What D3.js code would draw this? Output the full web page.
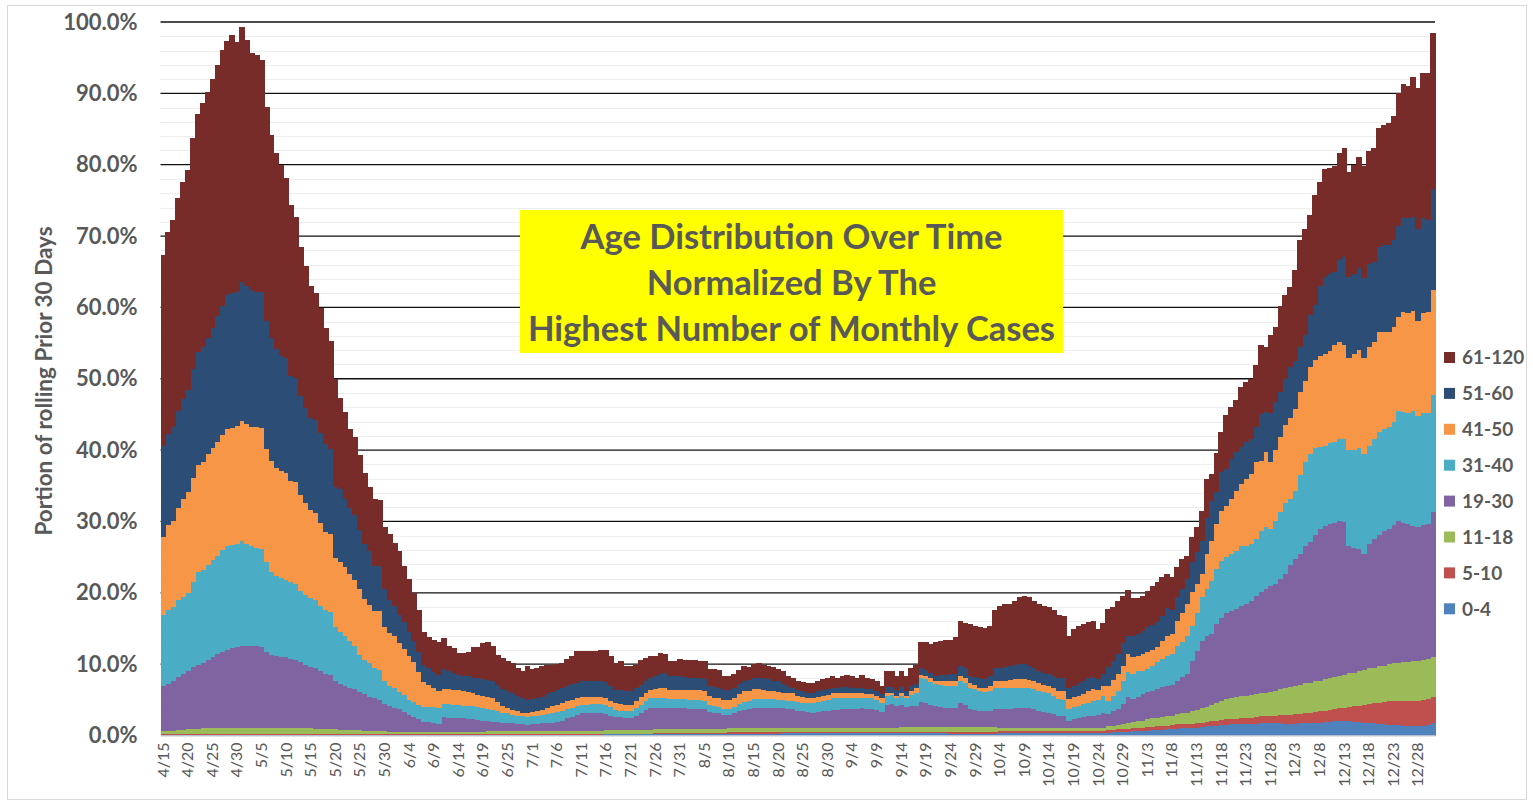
<!DOCTYPE html>
<html>
<head>
<meta charset="utf-8">
<script src="https://cdn.jsdelivr.net/npm/d3@7"></script>
<style>
  body { margin: 0; background: #fff; }
  svg text { font-family: Lato, "Open Sans", sans-serif; }
</style>
</head>
<body>
<div id="container"></div>
<script>
// ---- data: share of the highest monthly case count, in %, one value per day ----
const seriesNames = ["0-4", "5-10", "11-18", "19-30", "31-40", "41-50", "51-60", "61-120"];
const seriesColors = ["#4F81BD", "#C0504D", "#9BBB59", "#8064A2", "#4BACC6", "#F79646", "#2C4D75", "#772C2A"];

// one label every 5th category (two June dates are missing in the source)
const tickLabels = [
  "4/15", "4/20", "4/25", "4/30", "5/5", "5/10", "5/15", "5/20", "5/25", "5/30",
  "6/4", "6/9", "6/14", "6/19", "6/25", "7/1", "7/6", "7/11", "7/16", "7/21",
  "7/26", "7/31", "8/5", "8/10", "8/15", "8/20", "8/25", "8/30", "9/4", "9/9",
  "9/14", "9/19", "9/24", "9/29", "10/4", "10/9", "10/14", "10/19", "10/24", "10/29",
  "11/3", "11/8", "11/13", "11/18", "11/23", "11/28", "12/3", "12/8", "12/13", "12/18",
  "12/23", "12/28"
];
const tickEvery = 5;

const age0to4 = [
  0.1, 0.1, 0.1, 0.1, 0.1, 0.1, 0.1, 0.1, 0.1, 0.1,
  0.1, 0.1, 0.1, 0.1, 0.1, 0.1, 0.1, 0.1, 0.1, 0.1,
  0.1, 0.1, 0.1, 0.1, 0.1, 0.1, 0.1, 0.1, 0.1, 0.1,
  0.1, 0.1, 0.1, 0.1, 0.1, 0.1, 0.1, 0.1, 0.1, 0.1,
  0.1, 0.1, 0.1, 0.1, 0.1, 0.1, 0.1, 0.1, 0.1, 0.1,
  0.1, 0.1, 0.1, 0.1, 0.1, 0.1, 0.1, 0.1, 0.1, 0.1,
  0.1, 0.1, 0.1, 0.1, 0.1, 0.1, 0.1, 0.1, 0.1, 0.1,
  0.1, 0.1, 0.1, 0.1, 0.1, 0.1, 0.1, 0.1, 0.1, 0.1,
  0.1, 0.1, 0.1, 0.1, 0.1, 0.1, 0.1, 0.1, 0.1, 0.1,
  0.15, 0.15, 0.15, 0.15, 0.15, 0.15, 0.15, 0.15, 0.15, 0.15,
  0.15, 0.15, 0.15, 0.15, 0.15, 0.15, 0.15, 0.15, 0.15, 0.15,
  0.2, 0.2, 0.2, 0.2, 0.2, 0.2, 0.2, 0.2, 0.2, 0.2,
  0.2, 0.2, 0.2, 0.2, 0.2, 0.2,
  0.3, 0.3, 0.3, 0.3, 0.3, 0.3, 0.3, 0.3, 0.3, 0.3,
  0.3, 0.3, 0.3, 0.3, 0.3, 0.3, 0.3, 0.3, 0.3, 0.3,
  0.3, 0.3, 0.3, 0.3, 0.3, 0.3, 0.3, 0.3, 0.3, 0.3,
  0.3, 0.3, 0.3, 0.3,
  0.2, 0.2, 0.2, 0.2, 0.2, 0.2, 0.2, 0.2, 0.2, 0.2,
  0.4, 0.4, 0.4, 0.4, 0.4, 0.4, 0.4, 0.4, 0.4, 0.4,
  0.4, 0.4, 0.4, 0.4, 0.4, 0.4, 0.4, 0.4, 0.4, 0.4,
  0.4, 0.4,
  0.4, 0.45, 0.5, 0.5, 0.55, 0.6, 0.6, 0.65, 0.7, 0.75,
  0.8, 0.8, 0.85, 0.9, 0.95, 1.0, 1.0, 1.05, 1.1, 1.2,
  1.3, 1.35, 1.4, 1.5, 1.5, 1.55, 1.55, 1.6, 1.6, 1.65,
  1.65, 1.7, 1.7,
  1.7, 1.7, 1.7, 1.6, 1.6, 1.6, 1.7, 1.7, 1.8, 1.8,
  1.8, 1.9, 1.9, 2.0, 2.0, 2.0, 2.0, 1.9, 1.9, 1.8,
  1.7, 1.7, 1.6, 1.6, 1.5, 1.5, 1.5, 1.4, 1.4, 1.4,
  1.4, 1.4, 1.5, 1.8
];

const age5to10 = [
  0.1, 0.1, 0.1, 0.1, 0.1, 0.1, 0.1, 0.1, 0.1, 0.1,
  0.1, 0.15, 0.15, 0.15, 0.15, 0.15, 0.15, 0.15, 0.15, 0.15,
  0.15, 0.15, 0.15, 0.15, 0.15, 0.15, 0.15, 0.15, 0.15, 0.15,
  0.15, 0.15, 0.15, 0.15, 0.15, 0.15,
  0.1, 0.1, 0.1, 0.1, 0.1, 0.1, 0.1, 0.1, 0.1, 0.1,
  0.1, 0.1, 0.1, 0.1, 0.1, 0.1, 0.1, 0.1, 0.1, 0.1,
  0.1, 0.1, 0.1, 0.1, 0.1, 0.1, 0.1, 0.1, 0.1, 0.1,
  0.1, 0.1, 0.1, 0.1, 0.1, 0.1, 0.1, 0.1, 0.1, 0.1,
  0.1, 0.1, 0.1, 0.1, 0.1, 0.1, 0.1, 0.1, 0.1, 0.1,
  0.1, 0.1, 0.1, 0.1, 0.1, 0.1, 0.1, 0.1, 0.1, 0.1,
  0.1, 0.1, 0.1, 0.1,
  0.15, 0.15, 0.15, 0.15, 0.15, 0.15, 0.15, 0.15, 0.15, 0.15,
  0.15, 0.15, 0.15, 0.15, 0.15,
  0.3, 0.3, 0.3, 0.3, 0.3, 0.3, 0.3, 0.3, 0.3, 0.3, 0.3,
  0.25, 0.25, 0.25, 0.25, 0.25, 0.25, 0.25, 0.25, 0.25, 0.25,
  0.25, 0.25, 0.25, 0.25, 0.25, 0.25, 0.25, 0.25, 0.25, 0.25,
  0.25, 0.25, 0.25, 0.25, 0.25, 0.25, 0.25, 0.25, 0.25, 0.25,
  0.25, 0.25, 0.25, 0.25, 0.25, 0.25, 0.25, 0.25, 0.25, 0.25,
  0.25, 0.25, 0.25, 0.25, 0.25, 0.25, 0.25, 0.25, 0.25, 0.25,
  0.25, 0.25, 0.25, 0.25, 0.25, 0.25, 0.25, 0.25, 0.25, 0.25,
  0.25, 0.25, 0.25, 0.25, 0.25, 0.25,
  0.35, 0.35, 0.35, 0.4, 0.4, 0.4, 0.45, 0.45, 0.5, 0.5,
  0.5, 0.55, 0.55, 0.6, 0.6, 0.6, 0.6, 0.6, 0.6, 0.6,
  0.6, 0.65, 0.7, 0.7, 0.75, 0.75, 0.8, 0.8, 0.85, 0.85,
  0.95, 1.0, 1.05,
  1.1, 1.1, 1.2, 1.3, 1.3, 1.4, 1.3, 1.4, 1.4, 1.5,
  1.6, 1.6, 1.7, 1.7, 1.8, 1.9, 2.0, 2.2, 2.3, 2.5,
  2.7, 2.8, 3.0, 3.1, 3.3, 3.4, 3.4, 3.5, 3.5, 3.5,
  3.5, 3.6, 3.6, 3.6
];

const age11to18 = [
  0.4, 0.45, 0.5, 0.55, 0.6, 0.65, 0.7, 0.75, 0.8, 0.85,
  0.85, 0.85, 0.85, 0.85, 0.85, 0.85, 0.85, 0.85, 0.85, 0.85,
  0.85, 0.8, 0.8, 0.8, 0.8, 0.8, 0.8, 0.8, 0.8, 0.8,
  0.8, 0.7, 0.7, 0.7, 0.7, 0.7, 0.55, 0.55, 0.55, 0.55,
  0.55, 0.4, 0.4, 0.4, 0.4, 0.4, 0.3, 0.3, 0.3, 0.3,
  0.3, 0.25, 0.25, 0.25, 0.25, 0.25, 0.25,
  0.35, 0.35, 0.35, 0.35, 0.35, 0.35, 0.35, 0.35, 0.35,
  0.4, 0.4, 0.4, 0.4, 0.4, 0.4, 0.4, 0.4, 0.4, 0.4,
  0.4, 0.4, 0.4, 0.4, 0.4, 0.4, 0.4, 0.4, 0.4,
  0.5, 0.5, 0.5, 0.5, 0.5, 0.5, 0.5, 0.5, 0.5, 0.5,
  0.5, 0.5, 0.5, 0.5, 0.5,
  0.6, 0.6, 0.6, 0.6, 0.6, 0.6, 0.6, 0.6, 0.6, 0.6,
  0.6, 0.6, 0.6, 0.6, 0.6, 0.6, 0.6, 0.6, 0.6, 0.6,
  0.6, 0.6, 0.6, 0.6, 0.6, 0.6,
  0.55, 0.55, 0.55, 0.55, 0.55, 0.55, 0.55, 0.55, 0.55, 0.55,
  0.55, 0.55, 0.55, 0.55, 0.55, 0.55, 0.55, 0.55, 0.55, 0.55,
  0.55, 0.55, 0.55, 0.55,
  0.7, 0.7, 0.7, 0.7, 0.7, 0.7, 0.7, 0.7, 0.7, 0.7,
  0.7, 0.7, 0.7, 0.7, 0.7, 0.7, 0.7, 0.7, 0.7, 0.7,
  0.4, 0.4, 0.4, 0.4, 0.4, 0.4, 0.4, 0.4, 0.4, 0.4,
  0.4, 0.4, 0.4, 0.4, 0.4, 0.4, 0.4, 0.4, 0.4, 0.4,
  0.4, 0.4,
  0.55, 0.6, 0.65, 0.7, 0.8, 0.85, 0.95, 1.0, 1.05, 1.15,
  1.2, 1.25, 1.3, 1.3, 1.4, 1.5, 1.6, 1.75, 1.9, 2.0,
  2.1, 2.3, 2.5, 2.7, 2.85, 2.95, 3.05, 3.1, 3.15, 3.2,
  3.2, 3.2, 3.25,
  3.3, 3.5, 3.6, 3.7, 3.9, 3.9, 4.1, 4.2, 4.2, 4.3,
  4.3, 4.4, 4.5, 4.5, 4.6, 4.6, 4.7, 4.7, 4.8, 4.9,
  5.0, 5.0, 5.1, 5.1, 5.2, 5.2, 5.3, 5.4, 5.4, 5.5,
  5.6, 5.6, 5.6, 5.6
];

const age19to30 = [
  6.4, 6.6, 6.9, 7.4, 7.8, 8.2, 8.7, 9.0, 9.2, 9.6,
  9.9, 10.3, 10.6, 10.9, 11.1, 11.3, 11.4, 11.4, 11.4, 11.4,
  11.3, 10.6, 10.2, 10.1, 10.0, 9.9, 9.7, 9.6, 9.2, 8.9,
  8.6, 8.5, 8.1, 7.7, 7.5, 6.7, 6.5, 6.2, 5.9, 5.7,
  5.4, 5.2, 4.8, 4.6, 4.4, 3.8, 3.6, 3.4, 3.2, 2.8,
  2.4, 2.2, 1.9, 1.5, 1.4, 1.3, 1.2,
  2.05, 1.95, 1.95, 1.85, 1.85, 1.75, 1.75, 1.65, 1.55, 1.4,
  1.3, 1.3, 1.2, 1.1, 1.1, 1.0, 1.0, 0.9, 1.0,
  1.0, 1.1, 1.2, 1.2, 1.3, 1.5, 1.8, 2.0, 2.3, 2.4,
  2.4, 2.4, 2.4, 2.4, 2.25, 2.05, 1.85, 1.85, 1.75, 1.75,
  2.05, 2.45, 2.85, 3.15, 3.0, 3.0, 3.0, 2.9, 2.9, 2.9,
  2.9, 2.8, 2.8, 2.8, 2.75, 2.35, 2.25, 2.15, 1.95, 1.8,
  2.0, 2.3, 2.5, 2.6, 2.8, 2.8, 2.8, 2.8, 2.8, 2.7,
  2.7, 2.6, 2.6, 2.4, 2.3, 2.2, 2.1, 2.2, 2.3, 2.4,
  2.5, 2.5, 2.6, 2.6, 2.6, 2.6, 2.7, 2.6, 2.6, 2.5,
  2.2, 3.2, 3.3, 3.0, 3.05, 2.75, 2.85, 2.85, 3.45, 3.35,
  3.05, 2.85, 2.75, 2.65, 2.65, 2.65, 3.35, 3.15, 2.55, 2.45,
  2.25, 2.25, 2.35, 2.55, 2.65, 2.65, 2.65, 2.75, 2.75, 2.75,
  2.75, 2.65, 2.45, 2.25, 2.15, 1.95, 1.65, 1.65, 1.05, 1.25,
  1.45, 1.55, 1.65, 1.75, 1.85, 2.15,
  1.7, 2.0, 2.2, 2.8, 3.65, 3.25, 3.4, 3.7, 3.85, 3.9,
  4.0, 4.2, 4.3, 4.3, 4.75, 5.1, 5.4, 7.1, 8.3, 9.5,
  10.0, 9.9, 11.0, 11.6, 12.0, 12.25, 12.3, 12.7, 12.8, 13.2,
  13.8, 14.2, 14.5,
  14.9, 15.0, 15.4, 16.0, 17.1, 17.9, 18.4, 19.2, 19.7, 20.5,
  21.3, 21.5, 21.6, 21.6, 21.6, 21.4, 17.8, 17.5, 17.1, 16.3,
  17.4, 18.0, 18.4, 18.9, 19.0, 19.4, 19.8, 19.5, 19.4, 19.0,
  18.7, 18.9, 19.0, 20.3
];

const age31to40 = [
  9.9, 10.3, 10.4, 10.8, 10.8, 10.9, 11.9, 12.9, 13.0, 13.2,
  13.6, 13.8, 14.3, 14.5, 14.5, 14.4, 14.8, 14.3, 14.0, 13.8,
  13.8, 12.6, 11.6, 11.2, 11.0, 10.9, 10.7, 10.6, 10.0, 9.8,
  9.6, 9.6, 9.1, 8.9, 8.8, 7.6, 7.3, 7.0, 6.6, 6.1,
  5.1, 4.8, 4.7, 4.2, 4.2, 3.2, 2.9, 2.7, 2.4, 2.4,
  2.1, 2.0, 1.9, 2.1, 2.1, 2.2, 2.2,
  1.8, 1.9, 1.8, 1.9, 1.8, 1.9, 1.8, 1.8, 1.8, 1.7,
  1.7, 1.5, 1.4, 1.4, 1.2, 1.2, 1.1, 1.1, 1.1,
  1.2, 1.2, 1.2, 1.4, 1.4, 1.4, 1.3, 1.3, 1.2, 1.2,
  1.2, 1.3, 1.3, 1.3, 1.3, 1.2, 1.0, 0.9, 0.9, 0.9,
  1.0, 1.1, 1.2, 1.3, 1.3, 1.4, 1.4, 1.3, 1.3, 1.3,
  1.3, 1.3, 1.3, 1.3, 1.2, 1.0, 0.9, 0.9, 0.8, 0.8,
  0.9, 1.0, 1.1, 1.2, 1.2, 1.2, 1.2, 1.2, 1.2, 1.2,
  1.2, 1.2, 1.1, 1.2, 1.2, 1.2, 1.3, 1.4, 1.5, 1.5,
  1.6, 1.6, 1.6, 1.6, 1.6, 1.5, 1.5, 1.5, 1.5, 1.4,
  1.3, 1.3, 1.3, 1.2, 1.3, 1.3, 1.6, 1.8, 3.4, 3.3,
  3.2, 3.1, 3.1, 3.1, 3.1, 3.1, 3.2, 3.1, 3.0, 2.9,
  2.8, 2.7, 2.8, 3.0, 3.0, 2.9, 2.9, 2.8, 2.8, 2.8,
  2.8, 2.8, 2.8, 2.8, 2.8, 2.6, 2.4, 2.3, 1.6, 1.7,
  1.7, 1.8, 1.9, 2.0, 2.1, 2.3,
  1.9, 2.2, 2.6, 3.3, 3.5, 3.5, 3.6, 3.3, 3.2, 3.5,
  3.8, 3.9, 4.2, 4.3, 4.9, 4.9, 5.4, 4.9, 5.2, 6.1,
  6.6, 7.5, 7.8, 8.0, 7.9, 7.9, 8.2, 8.3, 8.2, 7.9,
  7.9, 8.6, 8.7,
  8.0, 8.7, 9.4, 10.0, 9.3, 9.4, 11.0, 11.9, 12.3, 12.2,
  11.5, 11.2, 11.3, 11.3, 11.6, 11.6, 13.5, 13.7, 14.2, 13.9,
  13.8, 14.1, 14.5, 14.3, 14.2, 14.4, 15.5, 15.6, 15.5, 16.1,
  15.6, 15.7, 15.5, 16.4
];

const age41to50 = [
  10.9, 12.0, 12.1, 12.9, 13.7, 14.2, 14.6, 15.0, 15.2, 15.6,
  15.7, 15.9, 16.1, 16.4, 16.4, 16.6, 16.8, 16.8, 16.8, 16.9,
  16.9, 15.9, 15.6, 15.2, 15.0, 15.0, 14.2, 14.3, 13.4, 12.8,
  12.4, 12.1, 11.7, 11.0, 11.0, 9.6, 9.8, 9.6, 9.4, 9.3,
  9.3, 8.6, 8.2, 8.1, 8.2, 7.6, 7.3, 7.3, 6.8, 6.4,
  6.2, 5.6, 4.7, 3.4, 3.1, 2.7, 2.4,
  2.1, 2.1, 2.1, 2.1, 2.0, 1.9, 1.8, 1.7, 1.6, 1.7,
  1.6, 1.3, 0.9, 0.7, 0.7, 0.6, 0.5, 0.5, 0.6,
  0.7, 0.7, 0.8, 0.9, 1.0, 1.0, 1.1, 1.1, 1.1, 1.1,
  1.1, 1.0, 1.0, 1.0, 1.0, 0.9, 0.9, 0.9, 0.9, 0.9,
  1.0, 1.1, 1.1, 1.2, 1.3, 1.3, 1.3, 1.3, 1.3, 1.3,
  1.3, 1.4, 1.4, 1.4, 1.4, 1.2, 1.2, 1.2, 1.3, 1.3,
  1.3, 1.4, 1.5, 1.4, 1.4, 1.4, 1.3, 1.2, 1.1, 1.1,
  1.0, 1.0, 1.1, 0.9, 0.8, 0.7, 0.7, 0.7, 0.7, 0.7,
  0.7, 0.7, 0.7, 0.7, 0.6, 0.7, 0.7, 0.6, 0.6, 0.6,
  0.6, 0.4, 0.3, 0.3, 0.4, 0.2, 0.6, 0.7, 0.4, 0.5,
  0.5, 0.5, 0.6, 0.7, 0.8, 0.8, 0.7, 0.7, 0.7, 0.6,
  0.5, 0.6, 0.7, 1.0, 1.0, 1.1, 1.2, 1.3, 1.3, 1.3,
  1.2, 1.2, 1.1, 1.0, 0.9, 1.0, 1.2, 1.2, 1.4, 1.4,
  1.4, 1.4, 1.6, 1.7, 1.4, 1.4,
  2.1, 2.2, 2.3, 2.1, 2.5, 2.4, 2.2, 2.3, 2.4, 2.2,
  2.1, 2.5, 2.8, 2.8, 3.5, 4.0, 4.5, 4.7, 4.2, 3.3,
  4.8, 5.6, 6.2, 7.0, 7.2, 7.8, 8.4, 8.8, 9.4, 9.8,
  10.8, 9.8, 10.5,
  9.4, 10.0, 10.6, 10.9, 11.3, 11.6, 11.6, 11.3, 12.2, 12.3,
  12.7, 12.9, 12.9, 13.7, 13.6, 13.3, 12.9, 13.5, 13.7, 13.5,
  13.8, 13.6, 13.9, 13.6, 13.3, 13.3, 13.2, 14.0, 14.0, 14.0,
  13.3, 14.0, 14.2, 14.7
];

const age51to60 = [
  12.8, 12.7, 13.2, 13.6, 14.0, 14.3, 15.3, 15.9, 16.1, 16.3,
  16.8, 17.7, 18.1, 18.8, 18.9, 18.8, 19.4, 19.4, 19.1, 19.0,
  19.1, 17.9, 17.3, 16.6, 16.1, 16.1, 14.8, 14.6, 13.9, 13.4,
  12.8, 13.0, 12.5, 12.3, 11.9, 10.0, 10.2, 9.6, 9.2, 9.0,
  8.3, 7.6, 7.5, 6.3, 6.4, 5.3, 4.7, 4.2, 4.0, 3.8,
  3.3, 3.0, 2.8, 2.5, 2.4, 2.2, 2.2,
  2.8, 2.5, 2.3, 2.1, 2.2, 2.2, 2.2, 2.3, 2.4, 2.4,
  2.4, 2.4, 2.4, 2.4, 2.3, 2.1, 2.0, 1.9, 1.8,
  1.8, 1.8, 2.0, 2.0, 2.1, 2.2, 2.1, 2.2, 2.2, 2.2,
  2.2, 2.2, 2.2, 2.2, 2.2, 2.1, 1.9, 2.0, 1.9, 1.9,
  1.8, 1.7, 1.7, 1.6, 1.8, 2.0, 2.1, 2.0, 1.9, 1.9,
  1.8, 1.7, 1.7, 1.6, 1.6, 1.5, 1.5, 1.4, 1.4, 1.4,
  1.4, 1.4, 1.4, 1.5, 1.6, 1.6, 1.6, 1.6, 1.5, 1.5,
  1.2, 1.0, 0.8, 0.8, 0.8, 0.8, 0.8, 0.8, 0.8, 0.8,
  0.8, 0.8, 0.8, 0.8, 0.8, 0.7, 0.7, 0.7, 0.7, 0.7,
  0.6, 0.8, 0.8, 0.8, 0.8, 0.8, 0.6, 0.6, 0.9, 0.8,
  0.8, 0.7, 0.8, 0.8, 0.9, 0.9, 1.4, 1.3, 1.0, 1.1,
  1.3, 1.2, 1.3, 1.7, 1.8, 1.9, 1.9, 2.0, 2.1, 2.1,
  2.0, 1.7, 1.7, 1.7, 1.7, 1.8, 1.8, 1.8, 1.5, 1.6,
  1.8, 1.9, 1.8, 1.7, 1.5, 1.7,
  2.6, 2.7, 2.8, 3.1, 2.6, 3.0, 3.0, 3.2, 3.5, 3.5,
  3.5, 3.6, 3.8, 3.4, 3.3, 3.5, 3.5, 4.2, 4.4, 4.6,
  5.1, 5.5, 4.5, 5.4, 5.2, 5.6, 5.4, 5.1, 5.1, 5.0,
  4.9, 6.6, 5.6,
  6.8, 6.8, 6.2, 6.5, 7.1, 6.7, 6.4, 6.4, 7.4, 7.7,
  9.8, 10.7, 10.8, 10.2, 11.4, 12.3, 11.3, 11.2, 11.5, 11.2,
  11.7, 11.1, 11.9, 12.1, 12.2, 12.3, 12.7, 13.1, 13.3, 13.2,
  12.9, 13.3, 12.9, 14.2
];

const age61to120 = [
  26.7, 28.3, 28.9, 29.9, 30.5, 30.8, 32.3, 33.4, 34.1, 34.5,
  34.9, 35.2, 35.9, 35.6, 36.2, 35.0, 35.8, 34.5, 33.3, 33.2,
  32.5, 30.0, 28.4, 27.5, 26.8, 25.2, 23.9, 22.5, 20.9, 19.8,
  18.6, 17.9, 17.6, 16.2, 15.1, 15.1, 12.8, 12.2, 11.1, 11.0,
  10.4, 10.0, 9.0, 9.3, 9.2, 8.7, 9.2, 8.9, 8.9, 7.9,
  7.5, 6.7, 5.8, 4.6, 4.3, 4.6, 4.6,
  4.4, 3.5, 3.6, 3.1, 3.1, 3.4, 4.3, 4.4, 5.0, 5.3,
  4.9, 4.2, 4.4, 4.3, 4.2, 4.0, 3.9, 4.7, 4.2,
  4.2, 4.4, 4.1, 3.8, 3.6, 3.5, 3.8, 3.9, 4.4, 4.3,
  4.2, 4.2, 4.3, 4.4, 4.5, 4.2, 3.7, 4.1, 3.6, 3.6,
  3.3, 3.5, 3.3, 3.1, 2.9, 2.9, 2.7, 2.0, 2.1, 2.4,
  2.4, 2.5, 2.5, 2.5, 2.5, 2.3, 2.5, 2.6, 2.0, 1.9,
  1.9, 2.0, 2.1, 1.8, 1.9, 2.0, 1.9, 1.8, 1.9, 1.7,
  1.8, 1.5, 1.4, 1.3, 1.3, 1.3, 1.4, 1.5, 1.5, 1.6,
  1.7, 1.4, 1.6, 1.7, 1.7, 1.5, 1.8, 1.6, 1.4, 1.4,
  1.1, 2.2, 2.2, 2.0, 2.3, 2.1, 2.5, 2.7, 3.7, 3.9,
  4.0, 4.7, 4.7, 4.9, 4.8, 5.2, 6.2, 6.4, 7.2, 7.2,
  7.2, 7.1, 7.1, 8.2, 8.7, 8.8, 8.8, 9.0, 9.4, 9.5,
  9.6, 9.5, 9.3, 9.3, 9.4, 9.2, 8.8, 8.7, 7.4, 7.9,
  7.9, 7.9, 7.9, 7.8, 7.0, 7.1,
  8.1, 7.5, 7.5, 6.7, 6.4, 5.3, 5.1, 5.0, 5.1, 5.5,
  5.6, 5.4, 4.8, 4.6, 4.2, 4.1, 3.2, 3.5, 3.5, 4.1,
  5.5, 3.8, 5.5, 5.6, 7.5, 7.3, 7.3, 8.5, 8.5, 8.3,
  8.7, 9.6, 9.2,
  10.9, 10.4, 12.1, 11.7, 11.3, 12.7, 14.9, 14.9, 13.9, 15.5,
  14.6, 15.2, 14.8, 14.8, 15.1, 15.2, 14.8, 15.3, 15.6, 15.7,
  15.8, 16.0, 16.8, 16.9, 17.1, 17.3, 18.6, 18.8, 18.5, 19.6,
  19.8, 20.4, 20.6, 21.9
];

const seriesValues = [age0to4, age5to10, age11to18, age19to30, age31to40, age41to50, age51to60, age61to120];

const titleLines = ["Age Distribution Over Time", "Normalized By The", "Highest Number of Monthly Cases"];
const yAxisTitle = "Portion of rolling Prior 30 Days";

// ---- layout ----
const width = 1533,
  height = 803;
const plotLeft = 160.5,
  plotRight = 1435,
  plotTop = 22,
  plotBottom = 735.5;
const textGrey = "#595959";
const fontStack = "Lato, 'Open Sans', sans-serif";

const nDays = age0to4.length;
const rows = d3.range(nDays).map((i) => {
  const row = { i: i };
  seriesNames.forEach((name, k) => (row[name] = seriesValues[k][i]));
  return row;
});
const stacked = d3.stack().keys(seriesNames)(rows);

const x = d3.scaleBand().domain(d3.range(nDays)).range([plotLeft, plotRight]).padding(0);
const y = d3.scaleLinear().domain([0, 100]).range([plotBottom, plotTop]);

const svg = d3
  .select("#container")
  .append("svg")
  .attr("width", width)
  .attr("height", height);

// outer chart border
svg
  .append("rect")
  .attr("x", 7.5)
  .attr("y", 5.5)
  .attr("width", width - 14)
  .attr("height", height - 9)
  .attr("fill", "none")
  .attr("stroke", "#D9D9D9");

// minor gridlines every 2%, major (black) every 10%
const minorTicks = d3.range(2, 100, 2).filter((v) => v % 10 !== 0);
svg
  .append("g")
  .selectAll("line")
  .data(minorTicks)
  .join("line")
  .attr("x1", plotLeft)
  .attr("x2", plotRight)
  .attr("y1", (d) => Math.round(y(d)) + 0.5)
  .attr("y2", (d) => Math.round(y(d)) + 0.5)
  .attr("stroke", "#EDEDED");

svg
  .append("g")
  .selectAll("line")
  .data(d3.range(10, 101, 10))
  .join("line")
  .attr("x1", plotLeft)
  .attr("x2", plotRight)
  .attr("y1", (d) => y(d))
  .attr("y2", (d) => y(d))
  .attr("stroke", "#111")
  .attr("stroke-width", 1.3);

// stacked daily columns
svg
  .append("g")
  .attr("shape-rendering", "crispEdges")
  .selectAll("g")
  .data(stacked)
  .join("g")
  .attr("fill", (d, k) => seriesColors[k])
  .selectAll("rect")
  .data((d) => d)
  .join("rect")
  .attr("x", (d) => x(d.data.i))
  .attr("width", x.bandwidth() + 0.8)
  .attr("y", (d) => y(d[1]))
  .attr("height", (d) => Math.max(0, y(d[0]) - y(d[1])));

// y axis
const yAxis = d3
  .axisLeft(y)
  .tickValues(d3.range(0, 101, 10))
  .tickFormat((d) => d.toFixed(1) + "%")
  .tickSize(0)
  .tickPadding(23);
svg
  .append("g")
  .attr("transform", `translate(${plotLeft},0)`)
  .call(yAxis)
  .call((g) => g.select(".domain").remove())
  .selectAll("text")
  .attr("font-family", fontStack)
  .attr("font-size", 22)
  .attr("font-weight", "bold")
  .attr("fill", textGrey);

// x axis: a label every 5th day, rotated
const xAxis = d3
  .axisBottom(x)
  .tickValues(d3.range(0, nDays, tickEvery).filter((i) => i / tickEvery < tickLabels.length))
  .tickFormat((i) => tickLabels[i / tickEvery])
  .tickSize(0)
  .tickSizeOuter(0);
const xg = svg
  .append("g")
  .attr("transform", `translate(0,${plotBottom})`)
  .call(xAxis);
xg.select(".domain").attr("stroke", "#D9D9D9").attr("stroke-width", 1.5);
xg.selectAll("text")
  .attr("font-family", fontStack)
  .attr("font-size", 16)
  .attr("fill", textGrey)
  .attr("text-anchor", "end")
  .attr("transform", "rotate(-90)")
  .attr("x", -7)
  .attr("y", 0)
  .attr("dy", "0.35em");

// y axis title
svg
  .append("text")
  .attr("transform", "translate(44,381) rotate(-90)")
  .attr("text-anchor", "middle")
  .attr("dy", "0.35em")
  .attr("font-size", 22.5)
  .attr("font-weight", "bold")
  .attr("fill", textGrey)
  .text(yAxisTitle);

// yellow title box
const titleBox = svg.append("g");
titleBox
  .append("rect")
  .attr("x", 520)
  .attr("y", 210)
  .attr("width", 543)
  .attr("height", 143)
  .attr("fill", "#FFFF00");
titleBox
  .selectAll("text")
  .data(titleLines)
  .join("text")
  .attr("x", 791.5)
  .attr("y", (d, i) => 237 + i * 46)
  .attr("dy", "0.35em")
  .attr("text-anchor", "middle")
  .attr("font-size", 34.5)
  .attr("font-weight", "bold")
  .attr("fill", textGrey)
  .text((d) => d);

// legend, oldest group on top
const legend = svg
  .append("g")
  .selectAll("g")
  .data(seriesNames.map((n, k) => ({ name: n, color: seriesColors[k] })).reverse())
  .join("g")
  .attr("transform", (d, i) => `translate(1444,${357.5 + i * 35.9})`);
legend
  .append("rect")
  .attr("x", 0)
  .attr("y", -5.5)
  .attr("width", 11)
  .attr("height", 11)
  .attr("fill", (d) => d.color);
legend
  .append("text")
  .attr("x", 18)
  .attr("dy", "0.36em")
  .attr("font-size", 19)
  .attr("font-weight", "bold")
  .attr("fill", textGrey)
  .text((d) => d.name);
</script>
</body>
</html>
